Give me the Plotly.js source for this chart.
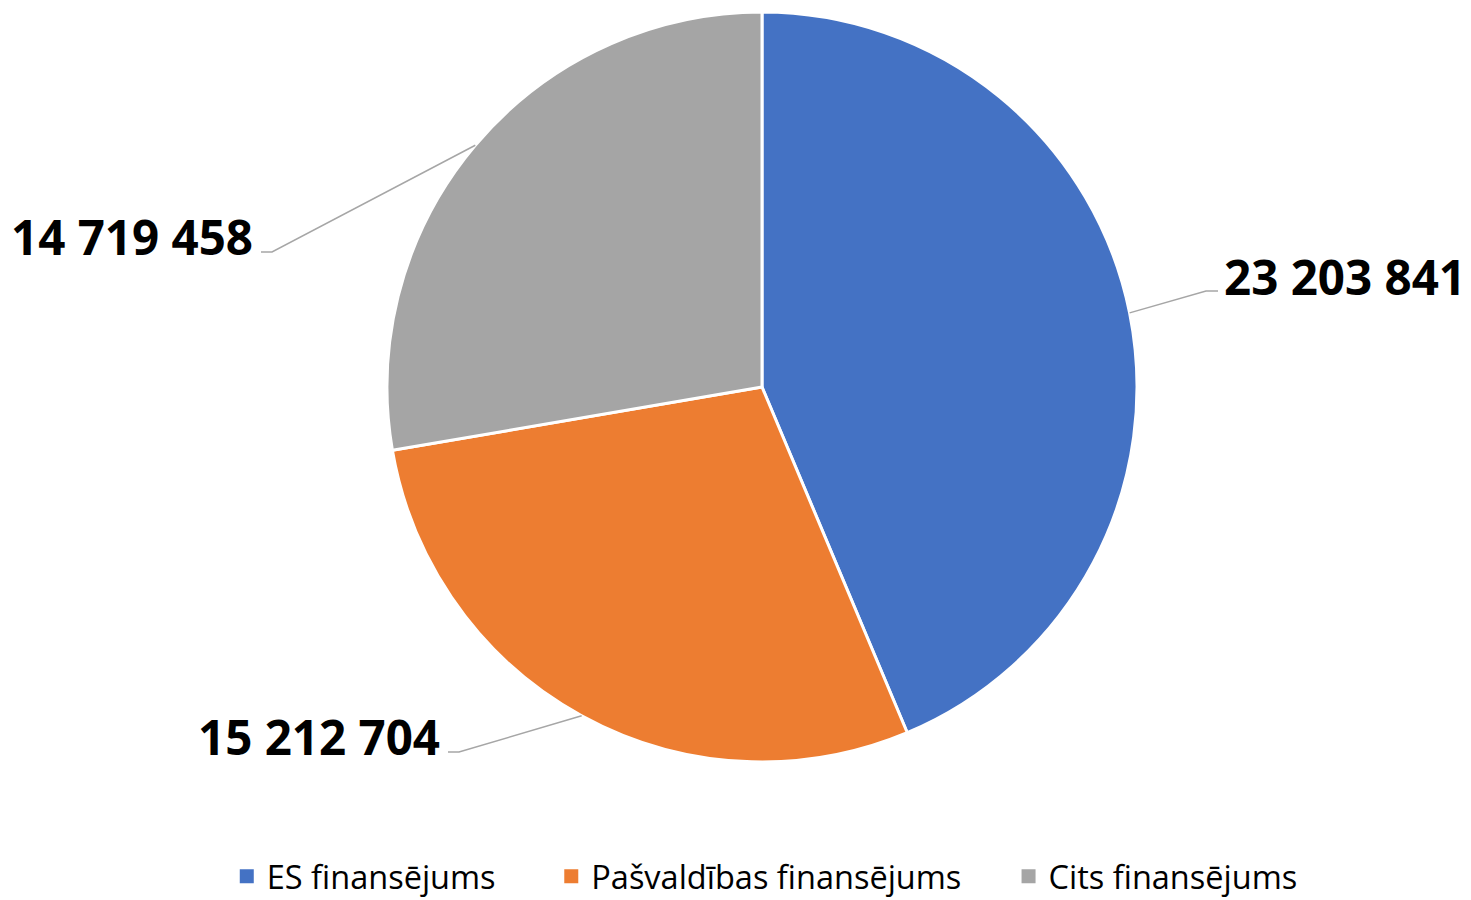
<!DOCTYPE html>
<html>
<head>
<meta charset="utf-8">
<script src="https://cdn.plot.ly/plotly-3.0.1.min.js"></script>
<style>html,body{margin:0;padding:0;background:#fff;}#chart{width:1471px;height:900px;}</style>
</head>
<body>
<div id="chart"></div>
<script>
// ---- data ----
const categories = ["ES finansējums", "Pašvaldības finansējums", "Cits finansējums"];
const values = [23203841, 15212704, 14719458];
const valueLabels = ["23 203 841", "15 212 704", "14 719 458"];
const colors = ["#4472C4", "#ED7D31", "#A5A5A5"];

// ---- layout config (pixels) ----
const W = 1471, H = 900;
const CX = 762, CY = 387, R = 375;
// label anchor: side, text edge x, text centre y, leader horizontal y
const labelCfg = [
  {side: "right", x: 1222, y: 277, lineY: 291},
  {side: "left",  x: 442,  y: 736, lineY: 752},
  {side: "left",  x: 255,  y: 236, lineY: 252}
];
const padLegend = [6, 5, 0];

const px = x => x / W;
const py = y => 1 - y / H;

const total = values.reduce((a, b) => a + b, 0);
let cum = 0;
const shapes = [];
const annotations = [];
values.forEach((v, i) => {
  const mid = (cum + v / 2) / total * 2 * Math.PI;
  cum += v;
  const sx = CX + R * Math.sin(mid);
  const sy = CY - R * Math.cos(mid);
  const c = labelCfg[i];
  let ex, hx;
  if (c.side === "right") { ex = c.x - 16; hx = c.x - 4; }
  else { ex = c.x + 17; hx = c.x + 6; }
  shapes.push({
    type: "path", xref: "paper", yref: "paper",
    path: `M${px(sx)},${py(sy)} L${px(ex)},${py(c.lineY)} L${px(hx)},${py(c.lineY)}`,
    line: {color: "#A6A6A6", width: 1.5}
  });
  annotations.push({
    xref: "paper", yref: "paper", x: px(c.x), y: py(c.y),
    xanchor: c.side === "right" ? "left" : "right", yanchor: "middle",
    text: "<b>" + valueLabels[i] + "</b>", showarrow: false,
    font: {family: "Open Sans, sans-serif", size: 47.5, color: "#000"}
  });
});

const trace = {
  type: "pie",
  labels: categories.map((c, i) => c + "\u00A0".repeat(padLegend[i])),
  values: values,
  sort: false,
  direction: "clockwise",
  rotation: 0,
  textinfo: "none",
  hoverinfo: "label+value",
  marker: {colors: colors, line: {color: "#FFFFFF", width: 3}},
  domain: {x: [px(CX - R), px(CX + R)], y: [py(CY + R), py(CY - R)]}
};

const layout = {
  width: W, height: H,
  margin: {l: 0, r: 0, t: 0, b: 0, autoexpand: false},
  paper_bgcolor: "#FFFFFF",
  showlegend: true,
  legend: {
    orientation: "h", x: 0.5199, xanchor: "center", y: -0.005, yanchor: "bottom",
    font: {family: "Open Sans, sans-serif", size: 32.5, color: "#000"},
    traceorder: "normal"
  },
  shapes: shapes,
  annotations: annotations
};

Plotly.newPlot("chart", [trace], layout, {displayModeBar: false, staticPlot: true}).then(gd => {
  gd.querySelectorAll(".legendpoints path").forEach(p => {
    p.style.strokeWidth = "0";
    p.setAttribute("d", "M7,7H-7V-7H7Z");
  });
});
</script>
</body>
</html>
